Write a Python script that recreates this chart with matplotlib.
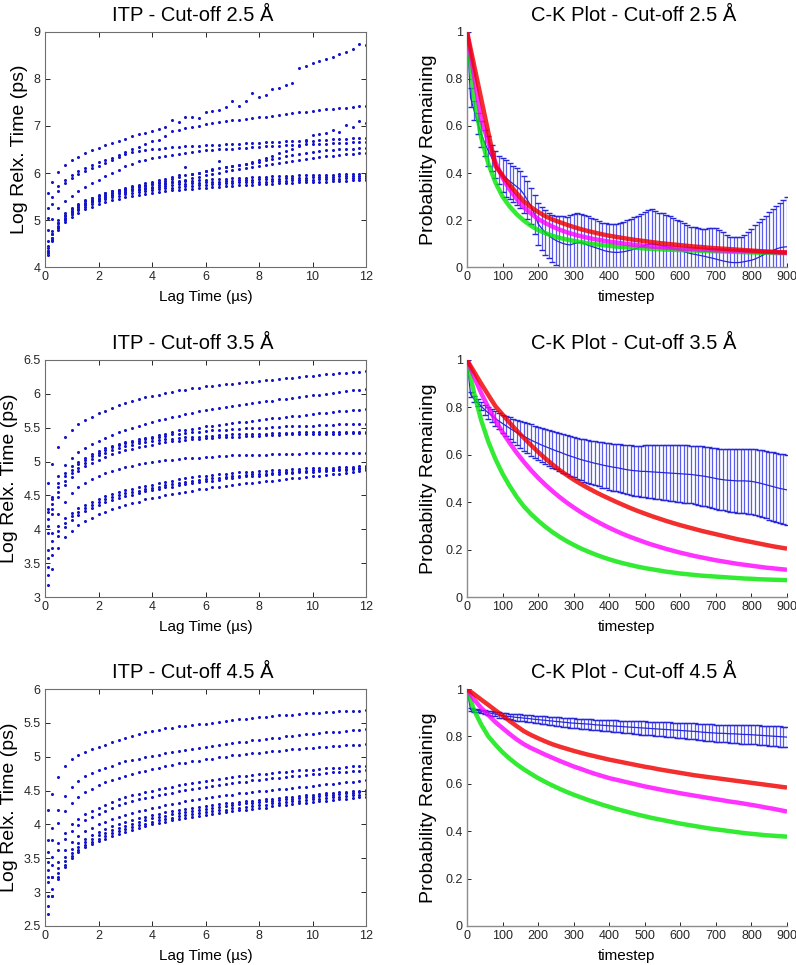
import numpy as np
import matplotlib
matplotlib.use('Agg')
import matplotlib.pyplot as plt

plt.rcParams['font.family'] = ['Liberation Sans', 'DejaVu Sans']

# ---------------- ITP data (Log relaxation time vs lag time, µs) ----------------
lag_time = np.concatenate([[0.1], np.arange(0.25, 12.001, 0.25)])

itp_cut25 = [
    [5.57, 5.80, 6.03, 6.17, 6.27, 6.35, 6.42,
     6.48, 6.54, 6.59, 6.63, 6.68, 6.73, 6.78, 6.82,
     6.86, 6.90, 6.93, 6.98, 7.12, 7.08, 7.19, 7.18,
     7.16, 7.29, 7.32, 7.33, 7.41, 7.53, 7.43, 7.52,
     7.69, 7.61, 7.65, 7.78, 7.81, 7.86, 7.92, 8.22,
     8.28, 8.33, 8.37, 8.42, 8.46, 8.52, 8.57, 8.64,
     8.74, 8.72],
    [5.25, 5.50, 5.72, 5.86, 5.96, 6.04, 6.11,
     6.17, 6.23, 6.28, 6.33, 6.38, 6.44, 6.50, 6.56,
     6.61, 6.68, 6.71, 6.78, 6.89, 6.92, 6.96, 6.97,
     6.99, 7.04, 7.06, 7.08, 7.10, 7.12, 7.13, 7.15,
     7.17, 7.19, 7.20, 7.22, 7.23, 7.25, 7.27, 7.29,
     7.30, 7.32, 7.33, 7.35, 7.36, 7.38, 7.39, 7.40,
     7.42, 7.43],
    [4.40, 4.70, 4.95, 5.12, 5.24, 5.33, 5.41,
     5.47, 5.52, 5.57, 5.61, 5.65, 5.69, 5.72, 5.75,
     5.78, 5.81, 5.85, 5.88, 5.92, 5.95, 6.12, 5.98,
     6.01, 6.05, 6.08, 6.25, 6.12, 6.15, 6.18, 6.20,
     6.23, 6.27, 6.32, 6.37, 6.42, 6.46, 6.50, 6.58,
     6.70, 6.80, 6.83, 6.86, 6.91, 6.88, 7.02, 6.98,
     7.10, 7.07],
    [5.05, 5.35, 5.62, 5.78, 5.89, 5.97, 6.04,
     6.10, 6.16, 6.22, 6.28, 6.34, 6.40, 6.44, 6.47,
     6.49, 6.51, 6.52, 6.53, 6.55, 6.56, 6.57, 6.58,
     6.58, 6.59, 6.60, 6.60, 6.61, 6.62, 6.62, 6.63,
     6.64, 6.64, 6.65, 6.65, 6.66, 6.67, 6.67, 6.68,
     6.69, 6.69, 6.70, 6.71, 6.72, 6.73, 6.73, 6.74,
     6.75, 6.75],
    [4.80, 5.02, 5.25, 5.40, 5.52, 5.62, 5.70,
     5.78, 5.86, 5.93, 6.00, 6.07, 6.14, 6.20, 6.25,
     6.28, 6.31, 6.34, 6.36, 6.38, 6.40, 6.42, 6.44,
     6.46, 6.48, 6.49, 6.50, 6.51, 6.52, 6.53, 6.54,
     6.55, 6.56, 6.57, 6.57, 6.58, 6.59, 6.59, 6.60,
     6.61, 6.61, 6.62, 6.62, 6.63, 6.64, 6.64, 6.65,
     6.65, 6.66],
    [4.35, 4.62, 4.88, 5.05, 5.18, 5.28, 5.36,
     5.42, 5.48, 5.53, 5.57, 5.61, 5.64, 5.67, 5.70,
     5.73, 5.76, 5.80, 5.84, 5.88, 5.92, 5.95, 5.98,
     6.01, 6.04, 6.07, 6.10, 6.13, 6.15, 6.17, 6.19,
     6.21, 6.24, 6.27, 6.30, 6.33, 6.36, 6.38, 6.40,
     6.42, 6.44, 6.46, 6.48, 6.49, 6.50, 6.51, 6.52,
     6.53, 6.54],
    [4.30, 4.58, 4.84, 5.01, 5.14, 5.24, 5.32,
     5.38, 5.44, 5.49, 5.53, 5.57, 5.60, 5.63, 5.66,
     5.69, 5.71, 5.74, 5.77, 5.80, 5.83, 5.86, 5.89,
     5.92, 5.95, 5.98, 6.01, 6.04, 6.07, 6.09, 6.11,
     6.13, 6.15, 6.17, 6.19, 6.21, 6.24, 6.26, 6.28,
     6.30, 6.32, 6.34, 6.36, 6.37, 6.39, 6.40, 6.41,
     6.42, 6.43],
    [4.55, 4.78, 5.00, 5.15, 5.26, 5.35, 5.42,
     5.48, 5.53, 5.57, 5.61, 5.64, 5.67, 5.70, 5.72,
     5.74, 5.76, 5.78, 5.79, 5.81, 5.82, 5.83, 5.84,
     5.85, 5.86, 5.87, 5.88, 5.88, 5.89, 5.90, 5.90,
     5.91, 5.92, 5.92, 5.93, 5.93, 5.94, 5.94, 5.95,
     5.95, 5.95, 5.96, 5.96, 5.96, 5.97, 5.97, 5.97,
     5.98, 5.98],
    [4.45, 4.70, 4.93, 5.08, 5.19, 5.28, 5.35,
     5.41, 5.46, 5.50, 5.54, 5.57, 5.60, 5.63, 5.65,
     5.67, 5.69, 5.71, 5.73, 5.74, 5.76, 5.77, 5.78,
     5.79, 5.80, 5.81, 5.82, 5.83, 5.84, 5.85, 5.85,
     5.86, 5.87, 5.87, 5.88, 5.88, 5.89, 5.89, 5.90,
     5.90, 5.91, 5.91, 5.92, 5.92, 5.93, 5.93, 5.93,
     5.94, 5.94],
    [4.35, 4.62, 4.86, 5.02, 5.13, 5.22, 5.29,
     5.35, 5.40, 5.45, 5.49, 5.52, 5.55, 5.58, 5.60,
     5.62, 5.64, 5.66, 5.68, 5.69, 5.71, 5.72, 5.73,
     5.74, 5.75, 5.76, 5.77, 5.78, 5.79, 5.80, 5.80,
     5.81, 5.82, 5.82, 5.83, 5.84, 5.84, 5.85, 5.85,
     5.86, 5.86, 5.87, 5.87, 5.88, 5.88, 5.89, 5.89,
     5.90, 5.90],
    [4.27, 4.55, 4.80, 4.96, 5.07, 5.16, 5.23,
     5.29, 5.34, 5.39, 5.43, 5.46, 5.49, 5.52, 5.54,
     5.56, 5.58, 5.60, 5.62, 5.63, 5.65, 5.66, 5.67,
     5.68, 5.69, 5.70, 5.71, 5.72, 5.73, 5.74, 5.75,
     5.75, 5.76, 5.77, 5.77, 5.78, 5.79, 5.79, 5.80,
     5.81, 5.81, 5.82, 5.82, 5.83, 5.84, 5.84, 5.85,
     5.85, 5.86],
]

itp_cut35 = [
    [4.68, 4.96, 5.22, 5.37, 5.47, 5.55, 5.61,
     5.66, 5.71, 5.75, 5.79, 5.83, 5.86, 5.89, 5.92,
     5.95, 5.97, 5.99, 6.01, 6.03, 6.05, 6.06, 6.08,
     6.09, 6.11, 6.12, 6.13, 6.14, 6.15, 6.16, 6.17,
     6.18, 6.19, 6.20, 6.21, 6.22, 6.23, 6.24, 6.25,
     6.26, 6.27, 6.28, 6.29, 6.30, 6.31, 6.31, 6.32,
     6.33, 6.34],
    [4.30, 4.48, 4.78, 4.95, 5.06, 5.14, 5.20,
     5.26, 5.31, 5.35, 5.39, 5.43, 5.47, 5.50, 5.53,
     5.56, 5.59, 5.61, 5.63, 5.66, 5.68, 5.70, 5.72,
     5.74, 5.76, 5.78, 5.79, 5.81, 5.82, 5.84, 5.85,
     5.86, 5.88, 5.89, 5.90, 5.92, 5.93, 5.94, 5.96,
     5.97, 5.98, 5.99, 6.00, 6.01, 6.03, 6.04, 6.05,
     6.06, 6.07],
    [4.25, 4.45, 4.68, 4.83, 4.93, 5.00, 5.06,
     5.11, 5.16, 5.20, 5.23, 5.26, 5.29, 5.31, 5.33,
     5.35, 5.37, 5.39, 5.41, 5.44, 5.46, 5.47, 5.48,
     5.50, 5.52, 5.53, 5.54, 5.55, 5.57, 5.58, 5.59,
     5.60, 5.62, 5.63, 5.64, 5.65, 5.66, 5.67, 5.68,
     5.69, 5.70, 5.71, 5.72, 5.73, 5.74, 5.75, 5.76,
     5.76, 5.77],
    [4.15, 4.38, 4.62, 4.78, 4.88, 4.96, 5.02,
     5.08, 5.13, 5.17, 5.21, 5.24, 5.27, 5.29, 5.31,
     5.33, 5.35, 5.37, 5.38, 5.40, 5.41, 5.42, 5.43,
     5.44, 5.45, 5.46, 5.46, 5.47, 5.48, 5.48, 5.49,
     5.49, 5.50, 5.50, 5.51, 5.51, 5.52, 5.52, 5.53,
     5.53, 5.53, 5.54, 5.54, 5.54, 5.55, 5.55, 5.55,
     5.56, 5.56],
    [4.05, 4.30, 4.55, 4.72, 4.83, 4.91, 4.98,
     5.04, 5.09, 5.13, 5.17, 5.20, 5.23, 5.25, 5.27,
     5.29, 5.31, 5.32, 5.33, 5.34, 5.35, 5.36, 5.37,
     5.37, 5.38, 5.38, 5.39, 5.39, 5.40, 5.40, 5.40,
     5.41, 5.41, 5.41, 5.42, 5.42, 5.42, 5.42, 5.43,
     5.43, 5.43, 5.43, 5.43, 5.44, 5.44, 5.44, 5.44,
     5.44, 5.44],
    [3.95, 4.22, 4.48, 4.65, 4.77, 4.86, 4.93,
     4.98, 5.03, 5.07, 5.11, 5.14, 5.17, 5.19, 5.21,
     5.23, 5.25, 5.27, 5.29, 5.30, 5.31, 5.32, 5.33,
     5.34, 5.35, 5.35, 5.36, 5.36, 5.37, 5.37, 5.38,
     5.38, 5.38, 5.39, 5.39, 5.39, 5.40, 5.40, 5.40,
     5.40, 5.41, 5.41, 5.41, 5.41, 5.41, 5.42, 5.42,
     5.42, 5.42],
    [3.70, 3.95, 4.22, 4.40, 4.53, 4.62, 4.69,
     4.74, 4.79, 4.83, 4.86, 4.89, 4.92, 4.94, 4.96,
     4.98, 5.00, 5.01, 5.02, 5.03, 5.04, 5.05, 5.06,
     5.06, 5.07, 5.07, 5.08, 5.08, 5.09, 5.09, 5.09,
     5.10, 5.10, 5.10, 5.11, 5.11, 5.11, 5.11, 5.11,
     5.12, 5.12, 5.12, 5.12, 5.12, 5.13, 5.13, 5.13,
     5.13, 5.13],
    [3.57, 3.82, 4.05, 4.16, 4.24, 4.31, 4.36,
     4.41, 4.45, 4.49, 4.52, 4.55, 4.58, 4.60, 4.62,
     4.64, 4.66, 4.68, 4.70, 4.72, 4.74, 4.75, 4.77,
     4.78, 4.79, 4.80, 4.81, 4.82, 4.83, 4.84, 4.84,
     4.85, 4.86, 4.86, 4.87, 4.88, 4.88, 4.89, 4.89,
     4.90, 4.90, 4.91, 4.91, 4.91, 4.92, 4.92, 4.92,
     4.93, 4.93],
    [3.45, 3.72, 3.97, 4.10, 4.19, 4.26, 4.31,
     4.36, 4.40, 4.44, 4.47, 4.50, 4.53, 4.55, 4.57,
     4.59, 4.61, 4.63, 4.65, 4.67, 4.68, 4.70, 4.71,
     4.73, 4.74, 4.75, 4.76, 4.77, 4.78, 4.79, 4.80,
     4.81, 4.82, 4.82, 4.83, 4.84, 4.84, 4.85, 4.86,
     4.86, 4.87, 4.87, 4.88, 4.88, 4.89, 4.89, 4.90,
     4.90, 4.91],
    [3.32, 3.62, 3.90, 4.04, 4.13, 4.21, 4.27,
     4.32, 4.36, 4.40, 4.43, 4.46, 4.49, 4.51, 4.54,
     4.56, 4.58, 4.60, 4.62, 4.63, 4.65, 4.67, 4.68,
     4.70, 4.71, 4.72, 4.73, 4.75, 4.76, 4.77, 4.78,
     4.79, 4.79, 4.80, 4.81, 4.82, 4.83, 4.83, 4.84,
     4.85, 4.85, 4.86, 4.86, 4.87, 4.88, 4.88, 4.89,
     4.89, 4.90],
    [3.17, 3.42, 3.72, 3.88, 3.98, 4.06, 4.12,
     4.17, 4.22, 4.26, 4.30, 4.33, 4.36, 4.39, 4.41,
     4.44, 4.46, 4.48, 4.50, 4.52, 4.54, 4.55, 4.57,
     4.59, 4.60, 4.62, 4.63, 4.64, 4.66, 4.67, 4.68,
     4.69, 4.70, 4.71, 4.72, 4.73, 4.74, 4.75, 4.76,
     4.77, 4.78, 4.79, 4.80, 4.81, 4.82, 4.83, 4.84,
     4.86, 4.87],
]

itp_cut45 = [
    [4.21, 4.45, 4.70, 4.86, 4.96, 5.02, 5.07,
     5.11, 5.15, 5.18, 5.21, 5.24, 5.27, 5.30, 5.33,
     5.36, 5.38, 5.40, 5.42, 5.43, 5.45, 5.46, 5.47,
     5.48, 5.49, 5.50, 5.52, 5.53, 5.54, 5.55, 5.56,
     5.57, 5.58, 5.59, 5.60, 5.61, 5.61, 5.62, 5.63,
     5.64, 5.64, 5.65, 5.66, 5.66, 5.67, 5.67, 5.68,
     5.68, 5.69],
    [3.77, 3.94, 4.22, 4.42, 4.55, 4.64, 4.71,
     4.76, 4.80, 4.84, 4.87, 4.90, 4.93, 4.95, 4.97,
     4.99, 5.01, 5.03, 5.05, 5.07, 5.08, 5.10, 5.11,
     5.13, 5.14, 5.16, 5.17, 5.19, 5.20, 5.21, 5.22,
     5.24, 5.25, 5.26, 5.27, 5.28, 5.30, 5.31, 5.32,
     5.33, 5.34, 5.35, 5.36, 5.37, 5.37, 5.38, 5.39,
     5.40, 5.41],
    [3.59, 3.77, 4.02, 4.20, 4.32, 4.41, 4.48,
     4.53, 4.58, 4.62, 4.66, 4.69, 4.72, 4.75, 4.77,
     4.79, 4.82, 4.84, 4.86, 4.88, 4.90, 4.91, 4.93,
     4.94, 4.96, 4.97, 4.99, 5.00, 5.02, 5.03, 5.04,
     5.05, 5.06, 5.07, 5.08, 5.09, 5.10, 5.11, 5.12,
     5.13, 5.13, 5.14, 5.15, 5.16, 5.16, 5.17, 5.18,
     5.18, 5.19],
    [3.45, 3.52, 3.72, 3.88, 4.00, 4.08, 4.15,
     4.20, 4.25, 4.29, 4.33, 4.37, 4.40, 4.43, 4.45,
     4.48, 4.50, 4.52, 4.54, 4.56, 4.58, 4.60, 4.61,
     4.63, 4.64, 4.66, 4.67, 4.68, 4.70, 4.71, 4.72,
     4.73, 4.74, 4.75, 4.76, 4.77, 4.78, 4.79, 4.80,
     4.81, 4.81, 4.82, 4.83, 4.84, 4.84, 4.85, 4.86,
     4.86, 4.87],
    [3.32, 3.40, 3.62, 3.78, 3.90, 3.99, 4.06,
     4.11, 4.16, 4.20, 4.24, 4.28, 4.31, 4.34, 4.37,
     4.39, 4.41, 4.43, 4.45, 4.47, 4.49, 4.51, 4.53,
     4.54, 4.56, 4.57, 4.58, 4.60, 4.61, 4.62, 4.63,
     4.65, 4.66, 4.67, 4.68, 4.69, 4.70, 4.71, 4.72,
     4.73, 4.74, 4.75, 4.76, 4.77, 4.78, 4.78, 4.79,
     4.79, 4.80],
    [3.22, 3.22, 3.45, 3.62, 3.74, 3.83, 3.90,
     3.95, 4.00, 4.04, 4.08, 4.11, 4.14, 4.17, 4.20,
     4.22, 4.24, 4.26, 4.28, 4.30, 4.32, 4.34, 4.36,
     4.37, 4.39, 4.40, 4.42, 4.43, 4.44, 4.46, 4.47,
     4.48, 4.49, 4.50, 4.51, 4.52, 4.53, 4.54, 4.55,
     4.56, 4.57, 4.58, 4.59, 4.60, 4.61, 4.62, 4.63,
     4.64, 4.65],
    [3.15, 3.22, 3.35, 3.52, 3.63, 3.72, 3.79,
     3.84, 3.89, 3.93, 3.97, 4.00, 4.03, 4.06, 4.09,
     4.11, 4.14, 4.16, 4.18, 4.20, 4.21, 4.23, 4.24,
     4.26, 4.27, 4.28, 4.30, 4.31, 4.32, 4.33, 4.34,
     4.35, 4.36, 4.37, 4.38, 4.39, 4.40, 4.41, 4.42,
     4.43, 4.44, 4.45, 4.46, 4.47, 4.48, 4.48, 4.49,
     4.50, 4.51],
    [2.95, 3.05, 3.28, 3.46, 3.58, 3.67, 3.74,
     3.79, 3.84, 3.88, 3.92, 3.95, 3.98, 4.01, 4.04,
     4.06, 4.09, 4.11, 4.13, 4.15, 4.17, 4.19, 4.20,
     4.22, 4.23, 4.25, 4.26, 4.27, 4.28, 4.30, 4.31,
     4.32, 4.33, 4.34, 4.35, 4.36, 4.37, 4.38, 4.39,
     4.40, 4.41, 4.42, 4.43, 4.44, 4.45, 4.46, 4.47,
     4.48, 4.49],
    [2.80, 2.95, 3.22, 3.40, 3.53, 3.62, 3.69,
     3.74, 3.79, 3.83, 3.87, 3.90, 3.93, 3.96, 3.99,
     4.01, 4.04, 4.06, 4.08, 4.10, 4.12, 4.14, 4.15,
     4.17, 4.18, 4.20, 4.21, 4.22, 4.24, 4.25, 4.26,
     4.27, 4.28, 4.29, 4.31, 4.32, 4.33, 4.34, 4.35,
     4.36, 4.37, 4.38, 4.39, 4.40, 4.41, 4.42, 4.43,
     4.44, 4.45],
    [2.68, 2.95, 3.20, 3.37, 3.50, 3.59, 3.66,
     3.71, 3.75, 3.79, 3.83, 3.86, 3.89, 3.92, 3.95,
     3.97, 4.00, 4.02, 4.04, 4.06, 4.08, 4.10, 4.11,
     4.13, 4.14, 4.16, 4.17, 4.18, 4.20, 4.21, 4.22,
     4.23, 4.24, 4.25, 4.27, 4.28, 4.29, 4.30, 4.31,
     4.32, 4.33, 4.34, 4.35, 4.36, 4.37, 4.38, 4.39,
     4.40, 4.41],
]

# ---------------- C-K data ----------------
ck_timestep = np.arange(0, 901, 10)        # errorbar (simulation) timesteps
model_timestep = np.arange(0, 901, 20)     # model prediction timesteps

# Cut-off 2.5 Å
ck25_mean = [1.0, 0.72, 0.665, 0.612, 0.566, 0.527, 0.494, 0.464, 0.437, 0.412,
             0.39, 0.378, 0.366, 0.354, 0.342, 0.33, 0.31, 0.285, 0.26, 0.225,
             0.185, 0.165, 0.148, 0.135, 0.123, 0.114, 0.107, 0.101, 0.097, 0.095,
             0.1, 0.104, 0.106, 0.1, 0.094, 0.089, 0.084, 0.079, 0.074, 0.069,
             0.066, 0.064, 0.063, 0.064, 0.066, 0.069, 0.073, 0.077, 0.082, 0.088,
             0.093, 0.097, 0.099, 0.097, 0.094, 0.09, 0.087, 0.084, 0.081, 0.076,
             0.072, 0.067, 0.062, 0.058, 0.055, 0.052, 0.049, 0.046, 0.042, 0.039,
             0.035, 0.031, 0.027, 0.024, 0.021, 0.02, 0.02, 0.021, 0.024, 0.027,
             0.03, 0.035, 0.042, 0.05, 0.057, 0.064, 0.071, 0.078, 0.083, 0.086,
             0.087]
ck25_upper = [1.0, 0.76, 0.705, 0.657, 0.622, 0.582, 0.557, 0.52, 0.493, 0.472,
              0.462, 0.456, 0.443, 0.43, 0.42, 0.408, 0.388, 0.367, 0.335, 0.308,
              0.275, 0.255, 0.244, 0.232, 0.224, 0.219, 0.218, 0.217, 0.215, 0.222,
              0.228, 0.232, 0.228, 0.222, 0.216, 0.21, 0.203, 0.196, 0.19, 0.187,
              0.185, 0.184, 0.183, 0.186, 0.193, 0.2, 0.206, 0.212, 0.218, 0.225,
              0.235, 0.243, 0.247, 0.238, 0.232, 0.229, 0.223, 0.219, 0.21, 0.2,
              0.198, 0.19, 0.178, 0.173, 0.17, 0.167, 0.164, 0.162, 0.165, 0.168,
              0.165, 0.16, 0.148, 0.135, 0.13, 0.128, 0.128, 0.13, 0.138, 0.15,
              0.163, 0.178, 0.192, 0.206, 0.218, 0.233, 0.248, 0.262, 0.275, 0.287,
              0.297]
ck25_red = [1.0, 0.857, 0.715, 0.572, 0.43, 0.39, 0.35, 0.314, 0.28, 0.255,
            0.235, 0.217, 0.203, 0.192, 0.181, 0.171, 0.162, 0.154, 0.147, 0.14,
            0.134, 0.129, 0.124, 0.119, 0.115, 0.111, 0.107, 0.103, 0.1, 0.097,
            0.094, 0.091, 0.088, 0.086, 0.083, 0.081, 0.079, 0.077, 0.075, 0.073,
            0.071, 0.069, 0.067, 0.066, 0.064, 0.063]
ck25_magenta = [1.0, 0.81, 0.63, 0.53, 0.445, 0.38, 0.33, 0.29, 0.255, 0.228,
                0.205, 0.188, 0.173, 0.16, 0.149, 0.14, 0.132, 0.125, 0.119, 0.114,
                0.109, 0.105, 0.101, 0.097, 0.094, 0.091, 0.088, 0.086, 0.084, 0.082,
                0.08, 0.078, 0.077, 0.075, 0.074, 0.072, 0.071, 0.07, 0.069, 0.068,
                0.067, 0.066, 0.065, 0.064, 0.063, 0.062]
ck25_green = [1.0, 0.72, 0.55, 0.44, 0.36, 0.3, 0.258, 0.225, 0.198, 0.176,
              0.158, 0.145, 0.134, 0.125, 0.118, 0.112, 0.107, 0.102, 0.098, 0.094,
              0.091, 0.088, 0.086, 0.084, 0.082, 0.08, 0.078, 0.077, 0.075, 0.074,
              0.073, 0.072, 0.071, 0.07, 0.069, 0.068, 0.067, 0.066, 0.065, 0.064,
              0.063, 0.062, 0.062, 0.061, 0.06, 0.06]

# Cut-off 3.5 Å
ck35_mean = [1.0, 0.855, 0.835, 0.82, 0.805, 0.79, 0.777, 0.765, 0.753, 0.742,
             0.732, 0.722, 0.712, 0.703, 0.694, 0.686, 0.678, 0.67, 0.662, 0.655,
             0.648, 0.641, 0.635, 0.629, 0.623, 0.617, 0.612, 0.606, 0.6, 0.595,
             0.59, 0.585, 0.58, 0.576, 0.572, 0.568, 0.564, 0.561, 0.557, 0.554,
             0.551, 0.548, 0.546, 0.543, 0.54, 0.537, 0.535, 0.533, 0.532, 0.53,
             0.53, 0.529, 0.528, 0.527, 0.526, 0.525, 0.524, 0.523, 0.522, 0.521,
             0.52, 0.519, 0.518, 0.517, 0.515, 0.513, 0.511, 0.509, 0.506, 0.503,
             0.5, 0.497, 0.495, 0.493, 0.492, 0.491, 0.49, 0.49, 0.49, 0.489,
             0.488, 0.485, 0.482, 0.478, 0.474, 0.47, 0.466, 0.462, 0.458, 0.455,
             0.452]
ck35_err = [0.0, 0.012, 0.014, 0.016, 0.018, 0.02, 0.024, 0.028, 0.031, 0.034,
            0.038, 0.042, 0.046, 0.05, 0.054, 0.057, 0.06, 0.063, 0.066, 0.068,
            0.07, 0.072, 0.074, 0.076, 0.078, 0.079, 0.08, 0.082, 0.083, 0.084,
            0.085, 0.086, 0.088, 0.089, 0.09, 0.091, 0.093, 0.094, 0.095, 0.096,
            0.098, 0.099, 0.1, 0.101, 0.102, 0.104, 0.105, 0.106, 0.107, 0.108,
            0.11, 0.111, 0.112, 0.113, 0.114, 0.115, 0.116, 0.117, 0.118, 0.119,
            0.12, 0.121, 0.122, 0.122, 0.123, 0.124, 0.125, 0.125, 0.126, 0.127,
            0.128, 0.129, 0.13, 0.131, 0.132, 0.133, 0.134, 0.135, 0.136, 0.137,
            0.138, 0.139, 0.14, 0.141, 0.142, 0.143, 0.144, 0.145, 0.146, 0.147,
            0.148]
ck35_red = [1.0, 0.95, 0.9, 0.852, 0.805, 0.77, 0.735, 0.702, 0.671, 0.641,
            0.612, 0.585, 0.56, 0.536, 0.515, 0.495, 0.477, 0.46, 0.444, 0.429,
            0.415, 0.401, 0.388, 0.375, 0.363, 0.352, 0.341, 0.331, 0.321, 0.312,
            0.303, 0.295, 0.287, 0.279, 0.272, 0.265, 0.258, 0.251, 0.244, 0.238,
            0.232, 0.226, 0.22, 0.214, 0.209, 0.204]
ck35_magenta = [1.0, 0.93, 0.86, 0.8, 0.745, 0.695, 0.65, 0.608, 0.57, 0.535,
                0.503, 0.474, 0.447, 0.422, 0.399, 0.378, 0.358, 0.34, 0.323, 0.307,
                0.292, 0.278, 0.265, 0.253, 0.242, 0.231, 0.221, 0.212, 0.203, 0.195,
                0.187, 0.18, 0.173, 0.167, 0.161, 0.155, 0.15, 0.145, 0.14, 0.136,
                0.132, 0.128, 0.124, 0.121, 0.118, 0.115]
ck35_green = [1.0, 0.86, 0.745, 0.655, 0.582, 0.52, 0.468, 0.422, 0.382, 0.35,
              0.322, 0.297, 0.274, 0.254, 0.236, 0.22, 0.205, 0.192, 0.18, 0.169,
              0.159, 0.15, 0.142, 0.135, 0.128, 0.122, 0.117, 0.112, 0.107, 0.103,
              0.099, 0.096, 0.093, 0.09, 0.088, 0.086, 0.084, 0.082, 0.08, 0.078,
              0.077, 0.075, 0.074, 0.073, 0.072, 0.071]

# Cut-off 4.5 Å
ck45_mean = [1.0, 0.913, 0.911, 0.909, 0.906, 0.903, 0.9, 0.897, 0.894, 0.89,
             0.887, 0.885, 0.884, 0.882, 0.88, 0.879, 0.877, 0.876, 0.874, 0.872,
             0.871, 0.869, 0.868, 0.866, 0.865, 0.863, 0.862, 0.86, 0.859, 0.857,
             0.856, 0.855, 0.854, 0.853, 0.852, 0.851, 0.849, 0.848, 0.847, 0.846,
             0.845, 0.844, 0.843, 0.842, 0.841, 0.84, 0.839, 0.838, 0.837, 0.836,
             0.835, 0.834, 0.833, 0.832, 0.831, 0.83, 0.829, 0.828, 0.827, 0.826,
             0.825, 0.824, 0.823, 0.822, 0.821, 0.82, 0.818, 0.817, 0.816, 0.815,
             0.814, 0.813, 0.813, 0.812, 0.811, 0.811, 0.81, 0.809, 0.808, 0.808,
             0.807, 0.806, 0.805, 0.804, 0.803, 0.802, 0.801, 0.8, 0.799, 0.798,
             0.797]
ck45_err = [0.0, 0.005, 0.006, 0.007, 0.007, 0.008, 0.009, 0.009, 0.01, 0.011,
            0.011, 0.012, 0.012, 0.013, 0.013, 0.014, 0.014, 0.015, 0.015, 0.016,
            0.016, 0.017, 0.017, 0.017, 0.018, 0.018, 0.019, 0.019, 0.019, 0.02,
            0.02, 0.02, 0.021, 0.021, 0.022, 0.022, 0.022, 0.023, 0.023, 0.024,
            0.024, 0.024, 0.025, 0.025, 0.026, 0.026, 0.026, 0.027, 0.027, 0.028,
            0.028, 0.028, 0.029, 0.029, 0.03, 0.03, 0.03, 0.031, 0.031, 0.032,
            0.032, 0.032, 0.033, 0.033, 0.034, 0.034, 0.034, 0.035, 0.035, 0.036,
            0.036, 0.036, 0.037, 0.037, 0.038, 0.038, 0.038, 0.039, 0.039, 0.04,
            0.04, 0.04, 0.041, 0.041, 0.041, 0.042, 0.042, 0.042, 0.043, 0.043,
            0.043]
ck45_red = [1.0, 0.978, 0.955, 0.933, 0.91, 0.888, 0.865, 0.843, 0.822, 0.806,
            0.792, 0.779, 0.767, 0.757, 0.748, 0.739, 0.731, 0.723, 0.716, 0.709,
            0.702, 0.696, 0.69, 0.684, 0.678, 0.672, 0.667, 0.661, 0.656, 0.651,
            0.646, 0.641, 0.636, 0.632, 0.628, 0.624, 0.62, 0.616, 0.612, 0.608,
            0.604, 0.6, 0.596, 0.592, 0.588, 0.584]
ck45_magenta = [1.0, 0.955, 0.92, 0.89, 0.86, 0.835, 0.81, 0.787, 0.767, 0.751,
                0.737, 0.723, 0.71, 0.697, 0.685, 0.673, 0.663, 0.652, 0.642, 0.633,
                0.624, 0.617, 0.61, 0.603, 0.596, 0.589, 0.583, 0.577, 0.571, 0.566,
                0.56, 0.555, 0.55, 0.545, 0.54, 0.535, 0.53, 0.525, 0.521, 0.516,
                0.511, 0.506, 0.5, 0.495, 0.489, 0.483]
ck45_green = [1.0, 0.91, 0.85, 0.8, 0.765, 0.733, 0.706, 0.682, 0.661, 0.642,
              0.624, 0.608, 0.593, 0.579, 0.566, 0.554, 0.543, 0.532, 0.522, 0.512,
              0.503, 0.494, 0.486, 0.478, 0.47, 0.463, 0.456, 0.45, 0.444, 0.438,
              0.432, 0.427, 0.422, 0.417, 0.412, 0.408, 0.404, 0.4, 0.396, 0.392,
              0.389, 0.386, 0.383, 0.381, 0.379, 0.377]

# ---------------- checks ----------------
for grp in (itp_cut25, itp_cut35, itp_cut45):
    for s in grp:
        assert len(s) == len(lag_time), len(s)
for arr in (ck25_mean, ck25_upper, ck35_mean, ck35_err, ck45_mean, ck45_err):
    assert len(arr) == len(ck_timestep), len(arr)
for arr in (ck25_red, ck25_magenta, ck25_green, ck35_red, ck35_magenta, ck35_green,
            ck45_red, ck45_magenta, ck45_green):
    assert len(arr) == len(model_timestep), len(arr)

# ---------------- figure ----------------
W, H = 796, 965
fig = plt.figure(figsize=(W / 100, H / 100), dpi=100)

def fr(x0, y_top, x1, y_bot):
    return [x0 / W, 1 - y_bot / H, (x1 - x0) / W, (y_bot - y_top) / H]

rows = [(31.7, 267.3), (360, 597), (689, 926)]
left_x = (45, 366)
right_x = (467, 787)

dot_color = '#1414c8'
spine_gray = '#6e6e6e'
tick_col = '#262626'

itp_sets = [itp_cut25, itp_cut35, itp_cut45]
itp_ylims = [(4, 9), (3, 6.5), (2.5, 6)]
itp_yticks = [np.arange(4, 9.01, 1), np.arange(3, 6.51, 0.5), np.arange(2.5, 6.01, 0.5)]
cutoffs = ['2.5', '3.5', '4.5']

ck_sets = [
    (ck25_mean, list(np.array(ck25_upper) - np.array(ck25_mean)), ck25_red, ck25_magenta, ck25_green),
    (ck35_mean, ck35_err, ck35_red, ck35_magenta, ck35_green),
    (ck45_mean, ck45_err, ck45_red, ck45_magenta, ck45_green),
]

def fmt(v):
    s = ('%.1f' % v)
    return s[:-2] if s.endswith('.0') else s

for i, (yt, yb) in enumerate(rows):
    # ---- ITP panel ----
    ax = fig.add_axes(fr(left_x[0], yt, left_x[1], yb))
    for s in itp_sets[i]:
        ax.plot(lag_time, s, linestyle='none', marker='o', markersize=2.2,
                markerfacecolor=dot_color, markeredgecolor='none')
    ax.set_xlim(0, 12)
    ax.set_ylim(*itp_ylims[i])
    ax.set_xticks(np.arange(0, 12.1, 2))
    ax.set_yticks(itp_yticks[i])
    ax.set_yticklabels([fmt(v) for v in itp_yticks[i]])
    ax.tick_params(direction='in', top=True, right=True, length=3.5, width=0.7,
                   labelsize=9, colors=tick_col, pad=3)
    for sp in ax.spines.values():
        sp.set_color(spine_gray)
        sp.set_linewidth(0.8)
    ax.set_title('ITP - Cut-off %s Å' % cutoffs[i], fontsize=14.5, pad=8, x=0.46)
    ax.set_xlabel('Lag Time (µs)', fontsize=11, labelpad=5)
    ax.set_ylabel('Log Relx. Time (ps)', fontsize=14, labelpad=4)

    # ---- C-K panel ----
    mean, err, red, mag, grn = ck_sets[i]
    bx = fig.add_axes(fr(right_x[0], yt, right_x[1], yb))
    cont = bx.errorbar(ck_timestep, mean, yerr=err, fmt='-', color='#2828d8',
                       linewidth=0.9, elinewidth=0.9, capsize=2.4, capthick=1.0,
                       zorder=2)
    cont[2][0].set_color('#5c5cf0')
    for cl in cont[1]:
        cl.set_color('#1a1ab4')
    bx.plot(model_timestep, grn, color='#00e600', linewidth=3.2, alpha=0.8,
            solid_capstyle='butt', zorder=3)
    bx.plot(model_timestep, mag, color='#ff00ff', linewidth=3.2, alpha=0.8,
            solid_capstyle='butt', zorder=4)
    bx.plot(model_timestep, red, color='#f00000', linewidth=3.2, alpha=0.82,
            solid_capstyle='butt', zorder=5)
    bx.set_xlim(0, 900)
    bx.set_ylim(0, 1)
    bx.set_xticks(np.arange(0, 901, 100))
    bx.set_yticks(np.arange(0, 1.01, 0.2))
    bx.set_yticklabels([fmt(v) for v in np.arange(0, 1.01, 0.2)])
    bx.tick_params(direction='in', length=3, width=0.7, labelsize=9,
                   colors=tick_col, pad=3)
    for side in ('top', 'right'):
        bx.spines[side].set_visible(False)
    for side in ('left', 'bottom'):
        bx.spines[side].set_color('#8c8c8c')
        bx.spines[side].set_linewidth(1.0)
    bx.set_title('C-K Plot - Cut-off %s Å' % cutoffs[i], fontsize=14.5, pad=8, x=0.52)
    bx.set_xlabel('timestep', fontsize=11, labelpad=5)
    bx.set_ylabel('Probability Remaining', fontsize=14, labelpad=6)

fig.savefig('out.png', dpi=100)
